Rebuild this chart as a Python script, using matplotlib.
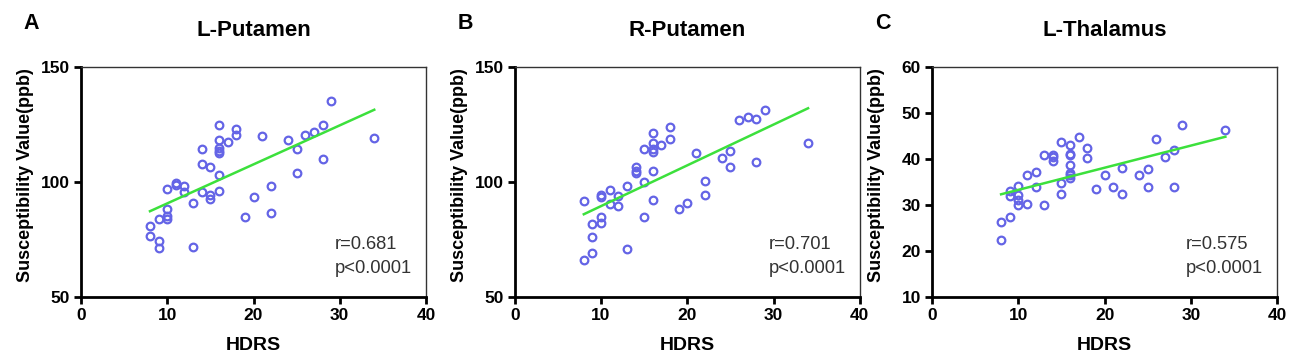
import numpy as np
import matplotlib
matplotlib.use("Agg")
import matplotlib.pyplot as plt

plt.rcParams["font.family"] = ["Liberation Sans", "DejaVu Sans"]

# HDRS scores and susceptibility values (ppb)
a_x = [29, 34, 16, 18, 18, 21, 16, 17, 16, 16, 16, 14, 24, 26, 27, 28, 25, 28,
       14, 15, 16, 25, 11, 11, 12, 10, 12, 14, 16, 15, 15, 13, 22, 20, 22, 19,
       10, 10, 10, 9, 8, 8, 9, 9, 13]
a_y = [135.3, 119.2, 124.6, 122.8, 120.5, 119.8, 118.2, 117.3, 114.6, 113.6, 112.6,
       114.5, 118.2, 120.2, 121.7, 124.9, 114.3, 110.1, 107.8, 106.6, 103.0, 103.8,
       99.7, 98.7, 98.3, 96.8, 95.8, 95.4, 96.2, 94.2, 92.5, 91.0, 98.3, 93.4, 86.6,
       84.7, 88.3, 85.0, 83.8, 83.8, 80.6, 76.3, 74.4, 71.2, 71.7]

b_x = [29, 34, 26, 27, 28, 18, 18, 16, 16, 17, 15, 16, 16, 21, 25, 24, 25, 28,
       14, 14, 14, 16, 13, 15, 11, 10, 10, 12, 8, 11, 12, 16, 22, 22, 20, 19,
       10, 10, 9, 15, 9, 9, 8, 13]
b_y = [131.2, 117.1, 127.0, 128.2, 127.2, 123.9, 118.5, 121.4, 117.1, 116.1, 114.2,
       114.2, 113.2, 112.5, 113.4, 110.6, 106.5, 108.6, 106.3, 104.9, 103.9, 104.9,
       98.3, 100.0, 96.6, 94.4, 93.4, 94.0, 91.5, 90.5, 89.5, 92.0, 100.3, 94.4,
       90.9, 88.2, 84.9, 82.2, 81.8, 84.9, 76.1, 69.0, 66.2, 70.8]

c_x = [29, 34, 17, 15, 16, 26, 18, 16, 16, 14, 14, 14, 13, 18, 28, 27, 16, 22,
       25, 24, 20, 16, 16, 16, 12, 11, 15, 10, 12, 19, 21, 25, 28, 22, 15, 9, 9,
       10, 10, 10, 11, 13, 9, 8, 8]
c_y = [47.3, 46.3, 44.7, 43.6, 43.0, 44.3, 42.3, 41.1, 40.9, 40.9, 40.4, 39.6, 40.9,
       40.1, 41.9, 40.4, 38.6, 38.1, 37.8, 36.5, 36.6, 37.0, 36.4, 35.9, 37.2, 36.5,
       34.7, 34.2, 33.9, 33.4, 33.8, 33.8, 34.0, 32.3, 32.3, 33.0, 31.9, 32.2, 31.0,
       29.9, 30.3, 30.0, 27.3, 26.3, 22.3]

panels = [
    ("A", "L-Putamen", a_x, a_y, (50, 150), [50, 100, 150], "r=0.681"),
    ("B", "R-Putamen", b_x, b_y, (50, 150), [50, 100, 150], "r=0.701"),
    ("C", "L-Thalamus", c_x, c_y, (10, 60), [10, 20, 30, 40, 50, 60], "r=0.575"),
]
lefts = [0.0623, 0.396, 0.717]
w = 0.2654

fig = plt.figure(figsize=(13, 3.62), dpi=100)

for left, (letter, title, x, y, ylim, yticks, rtext) in zip(lefts, panels):
    ax = fig.add_axes([left, 0.180, w, 0.635])
    ax.plot(x, y, "o", ms=5.5, mfc="none", mec="#6464e6", mew=1.6)
    # linear fit
    k, b = np.polyfit(x, y, 1)
    xs = np.array([min(x), max(x)])
    ax.plot(xs, k * xs + b, color="#3ce03c", lw=1.8)

    ax.set_xlim(0, 40)
    ax.set_ylim(*ylim)
    ax.set_xticks([0, 10, 20, 30, 40])
    ax.set_yticks(yticks)
    for s in ["left", "bottom"]:
        ax.spines[s].set_linewidth(2.0)
        ax.spines[s].set_color("black")
    for s in ["top", "right"]:
        ax.spines[s].set_linewidth(1.0)
        ax.spines[s].set_color("#333333")
    ax.tick_params(direction="out", length=5, width=2, labelsize=12.5, pad=3,
                   top=False, right=False)
    for lab in ax.get_xticklabels() + ax.get_yticklabels():
        lab.set_fontweight("bold")

    ax.set_xlabel("HDRS", fontsize=14, fontweight="bold", labelpad=10)
    ax.set_ylabel("Susceptibility Value(ppb)", fontsize=13, fontweight="bold")
    ax.yaxis.set_label_coords(-0.136, 0.53)
    ax.text(0.736, 0.209, rtext, transform=ax.transAxes,
            fontsize=13.2, color="#333333", va="baseline", ha="left")
    ax.text(0.736, 0.104, "p<0.0001", transform=ax.transAxes,
            fontsize=13.2, color="#333333", va="baseline", ha="left")
    fig.text(left + w / 2, 0.917, title, fontsize=16, fontweight="bold",
             ha="center", va="center")
    fig.text(left - 0.038, 0.935, letter, fontsize=15.5, fontweight="bold",
             ha="center", va="center")

fig.savefig("out.png", dpi=100)
